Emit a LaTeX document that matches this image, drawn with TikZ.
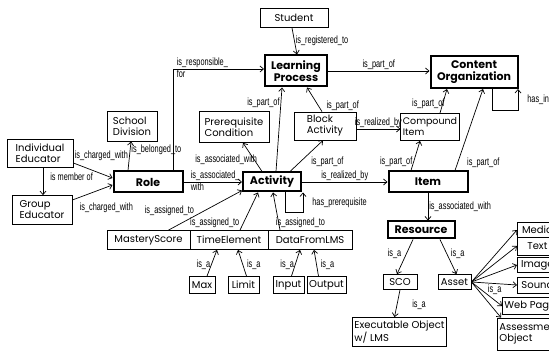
\documentclass[tikz,border=0pt]{standalone}
\usepackage{fontspec}
\setmainfont{Poppins}
\newfontfamily\linkfont[FakeStretch=0.7]{Liberation Sans}
\usetikzlibrary{arrows.meta}

\begin{document}
\begin{tikzpicture}[x=1pt,y=-1pt,->,>={Straight Barb[length=3.5pt,width=6pt]},line width=0.7pt,
		font=\fontsize{10}{11}\selectfont]
	\tikzstyle{concept}=[draw,line width=0.8pt,inner sep=2pt,align=left]
	\tikzstyle{core}=[concept,line width=2pt,align=center,font=\fontsize{11}{12.5}\selectfont\bfseries]
	\tikzstyle{leaf}=[concept,inner sep=1.5pt,minimum height=17]
	\tikzstyle{link}=[font=\linkfont\fontsize{10.5}{11}\selectfont,inner sep=1pt]
	\useasboundingbox (0,0) rectangle (549,352);

	\node[concept,minimum width=68,minimum height=19] (stud) at (294,18) {Student};
	\node[core,minimum width=62,minimum height=31] (lp) at (296,71) {Learning\\Process};
	\node[core,minimum width=87,minimum height=32] (co) at (474,72) {Content\\Organization};
	\node[concept,minimum width=50,minimum height=30] (sd) at (132,126) {School\\Division};
	\node[concept,minimum width=70,minimum height=31] (pc) at (234,127) {Prerequisite\\Condition};
	\node[concept,minimum width=62,minimum height=28] (ba) at (325,126) {Block\\Activity};
	\node[concept,minimum width=49,minimum height=27,font=\fontsize{9.5}{11}\selectfont] (ci) at (430,127) {Compound\\Item};
	\node[concept,minimum width=66,minimum height=28] (ie) at (40,153) {Individual\\Educator};
	\node[core,minimum width=69,minimum height=21] (role) at (148,182) {Role};
	\node[concept,minimum width=60,minimum height=29] (ge) at (42,210) {Group\\Educator};
	\node[core,minimum width=58,minimum height=19] (act) at (272,182) {Activity};
	\node[core,minimum width=79,minimum height=21] (item) at (428,182) {Item};
	\node[core,minimum width=67,minimum height=17] (res) at (421,230) {Resource};
	\node[concept,minimum width=83,minimum height=19] (ms) at (148.5,240) {MasteryScore};
	\node[concept,minimum width=78,minimum height=19] (te) at (229,240) {TimeElement};
	\node[concept,minimum width=84,minimum height=19] (dl) at (310,240) {DataFromLMS};
	\node[leaf,minimum width=26] (max) at (202,285) {Max};
	\node[leaf,minimum width=31] (lim) at (243.5,285) {Limit};
	\node[leaf,minimum width=31] (inp) at (288.5,285) {Input};
	\node[leaf,minimum width=39] (outp) at (326.5,285) {Output};
	\node[leaf,minimum width=34,minimum height=15] (sco) at (400,282) {SCO};
	\node[leaf,minimum width=33,minimum height=15] (asset) at (454.5,282) {Asset};
	\node[concept,minimum width=87,minimum height=29] (exe) at (399.5,332) {Executable Object\\w/ LMS};
	\node[concept,anchor=west,minimum width=40,minimum height=15] (media) at (517,230) {Media};
	\node[concept,anchor=west,minimum width=40,minimum height=18] (txt) at (517,246) {Text};
	\node[concept,anchor=west,minimum width=40,minimum height=15] (image) at (517,265) {Image};
	\node[concept,anchor=west,minimum width=40,minimum height=16] (sound) at (517,285) {Sound};
	\node[concept,anchor=west,minimum width=50,minimum height=17] (web) at (502,306) {Web Page};
	\node[concept,anchor=west,minimum width=60,minimum height=32] (assess) at (497,334) {Assessment\\Object};

	\coordinate (baout) at ([yshift=-3]ba.east);

	\path
	([xshift=-2]stud.south) edge node[link,right,pos=0.5] {is\_registered\_to} ([xshift=1]lp.north)
	(lp.east) edge node[link,above] {is\_part\_of} (lp.east -| co.west)
	([xshift=3]ie.south) edge node[link,right=6pt,pos=0.35] {is member of} ([xshift=1]ge.north)
	([yshift=-10]ie.east) edge node[link,pos=0,anchor=south west,yshift=1] {is\_charged\_with} ([yshift=4]role.west)
	([yshift=10]ge.east) edge node[link,pos=0,anchor=north west,xshift=6,yshift=-2] {is\_charged\_with} ([yshift=-3]role.west)
	([xshift=-20]role.north) edge node[link,right,pos=0.7] {is\_belonged\_to} ([xshift=-1]sd.south)
	(role.east) edge node[link,pos=0,anchor=south west,xshift=6] {is\_associated\_}
		node[link,pos=0,anchor=north west,xshift=6] {with} (act.west)
	([xshift=-10]act.north) edge node[link,left,pos=0.4,xshift=4] {is\_associated\_with} ([xshift=9]pc.south)
	([xshift=4]act.north) edge node[link,left,pos=0.82] {is\_part\_of} ([xshift=-14]lp.south)
	([xshift=18]act.north) edge node[link,right,pos=0.3,xshift=10] {is\_part\_of} ([xshift=-2]ba.south)
	([xshift=-3]ba.north) edge node[link,right,pos=0.25,xshift=7] {is\_part\_of} ([xshift=11]lp.south)
	(baout) edge node[link,above] {is\_realized\_by} (baout -| ci.west)
	(act.east) edge node[link,above] {is\_realized\_by} (item.west)
	([xshift=-17]item.north) edge node[link,left,pos=0.3] {is\_part\_of} ([xshift=-10]ci.south)
	([xshift=27]item.north) edge node[link,right,pos=0.1,xshift=8] {is\_part\_of} ([xshift=9]co.south)
	([xshift=10]ci.north) edge node[link,left,pos=0.4,xshift=3] {is\_part\_of} ([xshift=-27]co.south)
	(item.south) edge node[link,right] {is\_associated\_with} (item.south |- res.north)
	([xshift=20]ms.north) edge node[link,left,pos=0.5,xshift=-10] {is\_assigned\_to} ([yshift=2]act.south west)
	([xshift=11]te.north) edge node[link,left,pos=0.2,xshift=-3] {is\_assigned\_to} ([xshift=-14]act.south)
	([xshift=-30]dl.north) edge node[link,right,pos=0.2,xshift=-4] {is\_assigned\_to} ([xshift=1]act.south)
	([xshift=5]max.north) edge node[link,left,pos=0.45] {is\_a} ([xshift=-12]te.south)
	([xshift=3]lim.north) edge node[link,right,pos=0.45,xshift=3] {is\_a} ([xshift=9]te.south)
	([xshift=3]inp.north) edge node[link,left,pos=0.45] {is\_a} ([xshift=-10]dl.south)
	([xshift=-8]outp.north) edge node[link,right,pos=0.45,xshift=3] {is\_a} ([xshift=4]dl.south)
	([xshift=-8]res.south) edge node[link,left,pos=0.4,xshift=-4] {is\_a} ([xshift=-3]sco.north)
	([xshift=19]res.south) edge node[link,right,pos=0.4,xshift=3] {is\_a} ([xshift=2]asset.north)
	(sco.south) edge node[link,right,pos=0.55,xshift=14] {is\_a} ([xshift=-5]exe.north)
	(asset.east) edge (media.west)
	(asset.east) edge (txt.west)
	(asset.east) edge (image.west)
	(asset.east) edge node[link,below,pos=0.4,xshift=5] {is\_a} (sound.west)
	(asset.east) edge (web.west)
	(asset.east) edge ([xshift=4]assess.north west);

	\draw ([xshift=-10]role.north east) |- node[link,pos=0.5,anchor=south west,xshift=2] {is\_responsible\_}
		node[link,pos=0.5,anchor=north west,xshift=2] {for} ([yshift=2]lp.west);
	\draw ([xshift=13]act.south) -- ++(0,20) -| node[link,pos=0.75,right,xshift=8] {has\_prerequisite} ([xshift=31]act.south);
	\draw ([xshift=18]co.south) -- ++(0,21) -| node[link,pos=0.75,right,xshift=8] {has\_included} ([xshift=44]co.south);
\end{tikzpicture}
\end{document}
